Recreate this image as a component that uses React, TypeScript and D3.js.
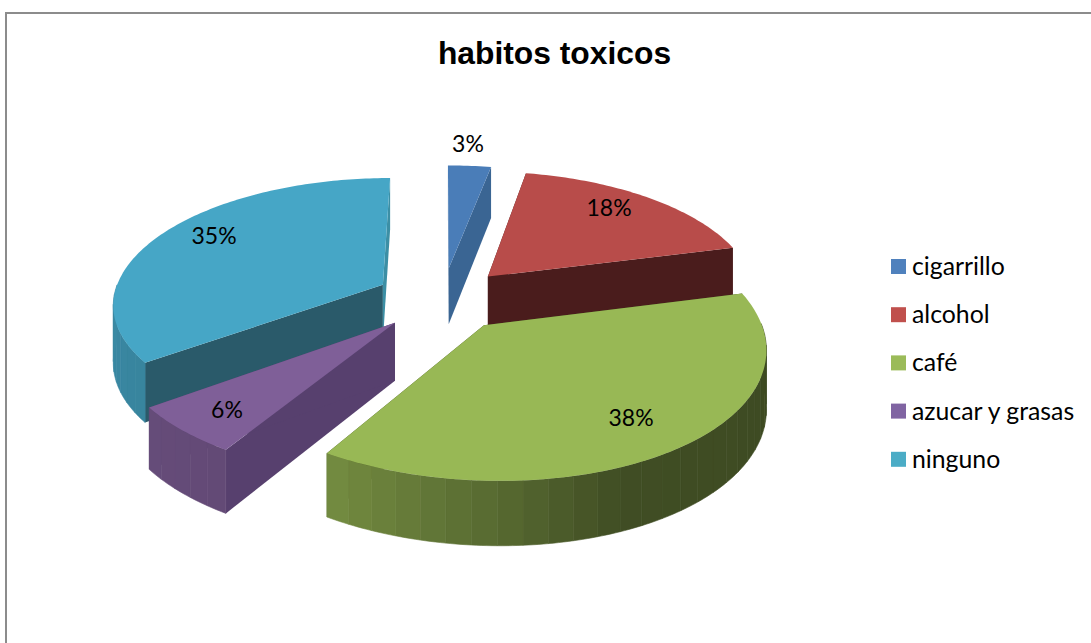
import React from "react";
import * as d3 from "d3";

const categories = ["cigarrillo", "alcohol", "café", "azucar y grasas", "ninguno"];
const shares = [3, 18, 38, 6, 35];
const chartTitle = "habitos toxicos";

const topColors = ["#4a7db8", "#b84c4a", "#98b855", "#7f5f98", "#46a6c6"];
const legendColors = ["#4f81bd", "#c0504d", "#9bbb59", "#8064a2", "#4bacc6"];
const startWallColors = ["#3a6593", "#4a1c1c", "#3e4a20", "#57406e", "#2a5a6a"];
const endWallColors = ["#3a6593", "#4a1c1c", "#3e4a20", "#57406e", "#3c8fa5"];

// Centres of the percentage labels, by slice.
const labelCentres: [number, number][] = [
  [468, 144],
  [609, 208],
  [631, 418],
  [227, 410],
  [214, 236],
];

// Perspective camera for the tilted pie.
const W = 1091;
const H = 643;
const CX = 442.5;
const CY = 299;
const RADIUS = 270;
const EXPLODE = 68;
const TILT = 0.465;
const PERSPECTIVE = 0.00052;
const NEAR_SKEW = 8.9e-5;
const THICKNESS = 57;
const FINE_STEP = Math.PI / 180;
const BAND_STEP = (4.5 * Math.PI) / 180;

const project = (x: number, y: number, drop: number): [number, number] => {
  const s = 1 / (1 + PERSPECTIVE * y);
  const near = Math.min(y, 0);
  return [
    CX + x * s + NEAR_SKEW * near * near,
    CY - y * TILT * s + drop * Math.pow(s, 0.7),
  ];
};

// Draw order runs back to front so nearer slices overlap the walls behind them.
const drawOrder = [0, 1, 4, 3, 2];

// Brightness of the curved wall as it turns around the pie (angle in degrees).
const wallShade = d3
  .scaleLinear()
  .domain([90, 158, 180, 215, 290])
  .range([0.4, 0.42, 0.57, 0.78, 0.85])
  .clamp(true);

const pieLayout = d3.pie<number>().sort(null).value((d) => d);
const outline = d3.line();

const steps = (a: number, b: number, step: number) => {
  const n = Math.max(1, Math.round((b - a) / step));
  return d3.range(n + 1).map((i) => a + ((b - a) * i) / n);
};

export default function App() {
  const slices = pieLayout(shares);

  const marks = drawOrder.map((idx) => {
    const { startAngle: a0, endAngle: a1 } = slices[idx];
    const mid = (a0 + a1) / 2;
    const ox = EXPLODE * Math.sin(mid);
    const oy = EXPLODE * Math.cos(mid);
    const rim = (a: number, drop: number) =>
      project(ox + RADIUS * Math.sin(a), oy + RADIUS * Math.cos(a), drop);
    const apex = (drop: number) => project(ox, oy, drop);

    const topPath = outline([apex(0), ...steps(a0, a1, FINE_STEP).map((a) => rim(a, 0))]) + "Z";
    const radialWall = (a: number) =>
      outline([apex(0), rim(a, 0), rim(a, THICKNESS), apex(THICKNESS)]) + "Z";

    const base = d3.rgb(topColors[idx]);
    const angles = steps(a0, a1, BAND_STEP);
    // Only the part of the curved wall that faces the viewer gets painted.
    const bands = angles.slice(1).flatMap((a, i) => {
      const prev = angles[i];
      const centre = (prev + a) / 2;
      if (Math.cos(centre) >= 0) return [];
      const arc = steps(prev, a, FINE_STEP);
      const k = wallShade((centre * 180) / Math.PI);
      const colour = d3.rgb(base.r * k, base.g * k, base.b * k).formatHex();
      const d =
        outline([
          ...arc.map((t) => rim(t, 0)),
          ...arc.slice().reverse().map((t) => rim(t, THICKNESS)),
        ]) + "Z";
      return [<path key={i} d={d} fill={colour} stroke={colour} strokeWidth={0.6} />];
    });

    return (
      <g key={categories[idx]}>
        <path d={radialWall(a0)} fill={startWallColors[idx]} />
        <path d={radialWall(a1)} fill={endWallColors[idx]} />
        {bands}
        <path d={topPath} fill={topColors[idx]} />
      </g>
    );
  });

  return (
    <svg
      width={W}
      height={H}
      viewBox={`0 0 ${W} ${H}`}
      style={{ position: "absolute", left: 0, top: 0, display: "block", background: "#fff" }}
    >
      <rect x={6} y={13} width={W + 20} height={H + 20} fill="none" stroke="#8c8c8c" strokeWidth={2} />
      <text
        x={554.5}
        y={64}
        textAnchor="middle"
        fontFamily="'Liberation Sans', Arial, sans-serif"
        fontWeight={700}
        fontSize={31.8}
        fill="#000"
      >
        {chartTitle}
      </text>
      {marks}
      {shares.map((v, i) => (
        <text
          key={categories[i]}
          x={labelCentres[i][0]}
          y={labelCentres[i][1] + 8}
          textAnchor="middle"
          fontFamily="Lato, 'Open Sans', sans-serif"
          fontSize={23}
          fill="#000"
        >
          {v}%
        </text>
      ))}
      {categories.map((c, i) => (
        <g key={c} transform={`translate(891, ${259 + i * 48.2})`}>
          <rect width={15} height={15} fill={legendColors[i]} />
          <text x={21} y={16} fontFamily="Lato, 'Open Sans', sans-serif" fontSize={24.8} fill="#000">
            {c}
          </text>
        </g>
      ))}
    </svg>
  );
}
